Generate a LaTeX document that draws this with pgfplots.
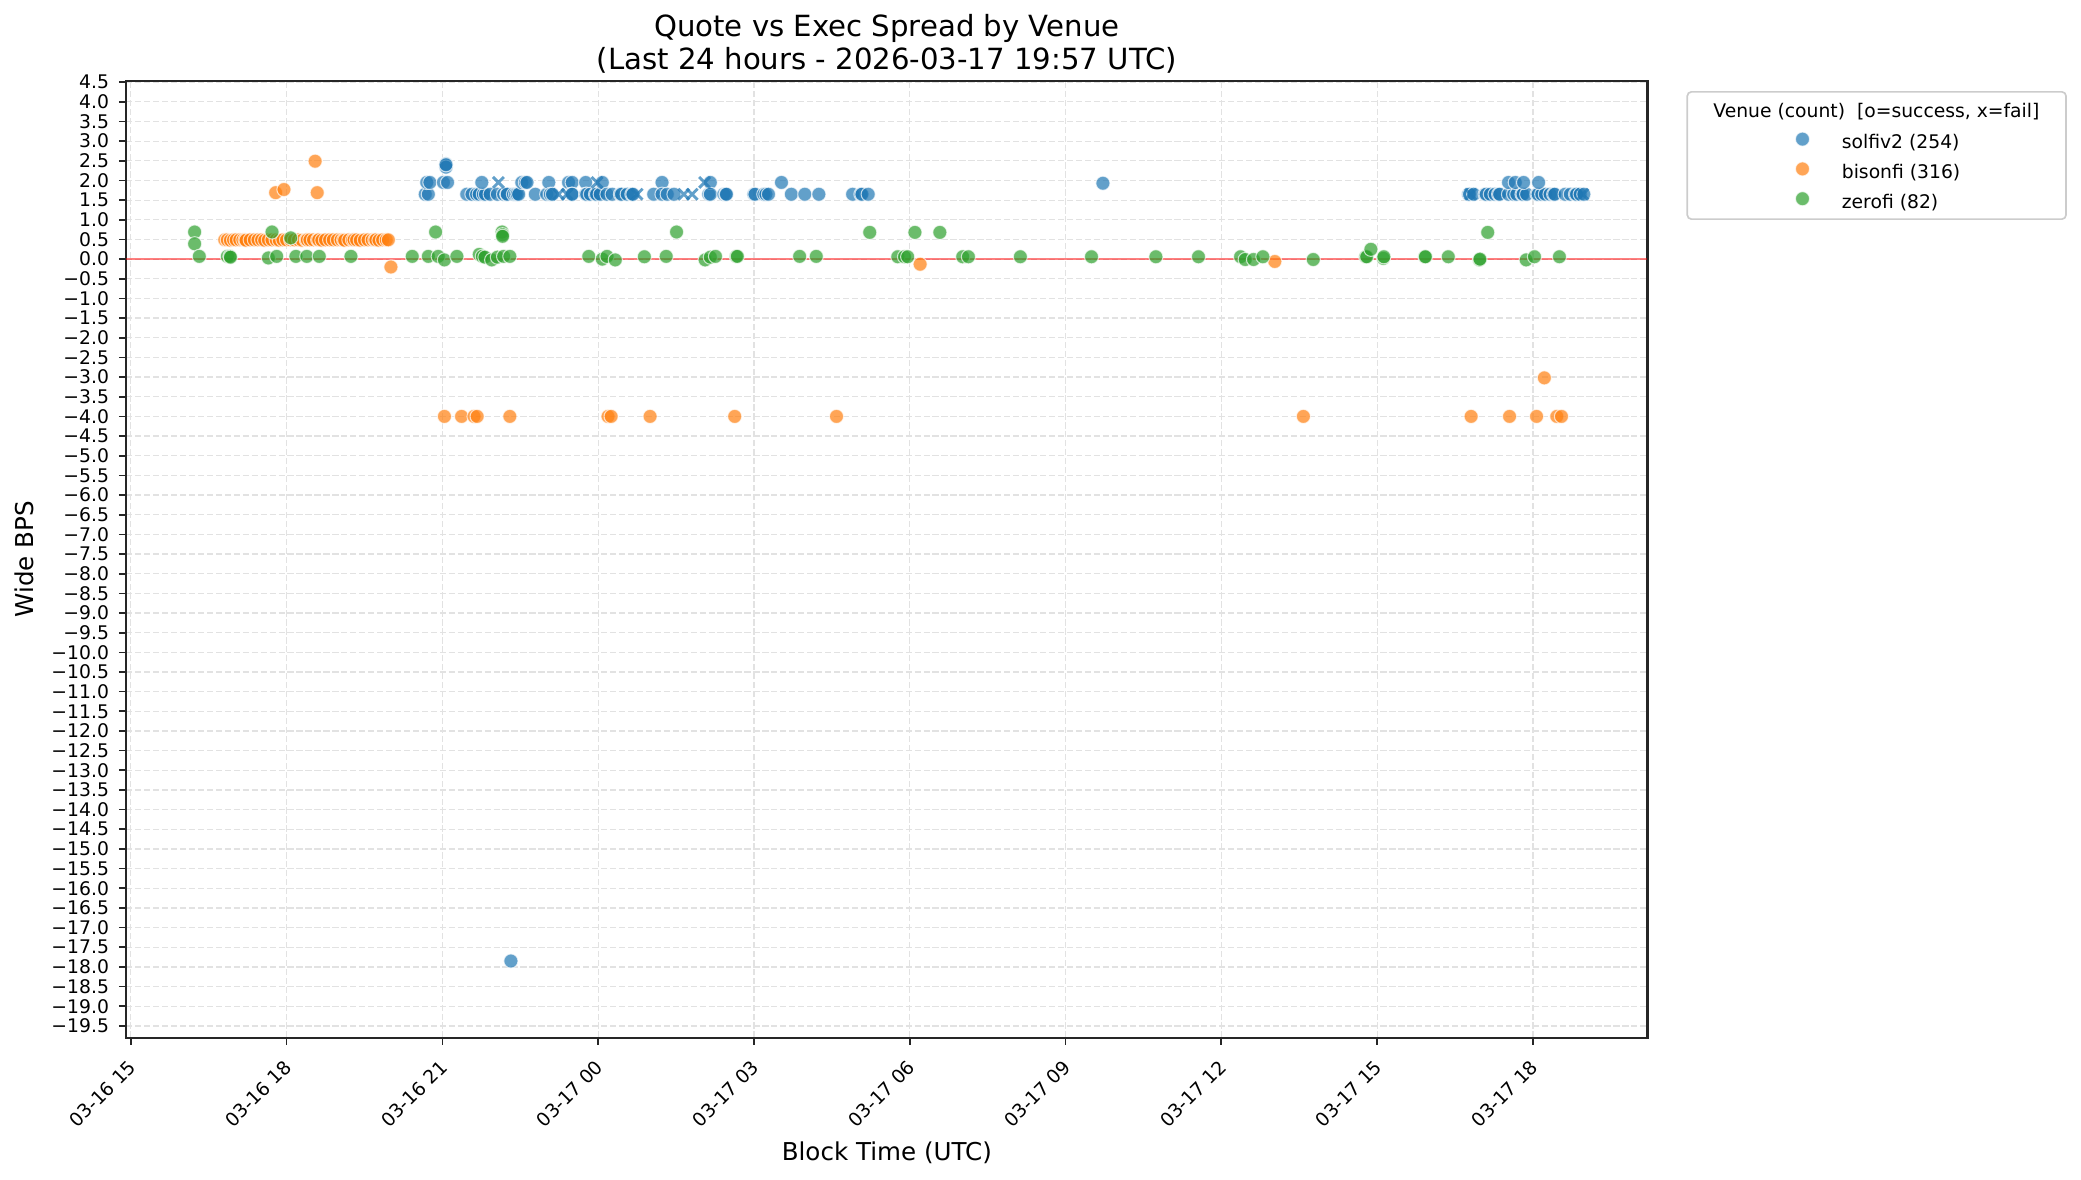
\documentclass[border=0pt]{standalone}
\usepackage{fontspec}
\setmainfont{DejaVu Sans}
\usepackage{pgfplots}
\pgfplotsset{compat=1.18}
\definecolor{cblue}{HTML}{1F77B4}
\definecolor{corange}{HTML}{FF7F0E}
\definecolor{cgreen}{HTML}{2CA02C}
\definecolor{gridc}{HTML}{E2E2E2}
\definecolor{spine}{HTML}{262626}
\pgfplotsset{
  succ/.style={color=#1, only marks, mark=*, mark size=3.4pt,
    mark options={fill=#1, draw=white, line width=0.5pt, opacity=0.7}},
  fail/.style={color=#1, only marks, mark=x, mark size=3.7pt,
    mark options={draw=#1, line width=1.4pt, opacity=0.7}, forget plot},
}
\begin{document}
\begin{tikzpicture}
\path[use as bounding box] (-60.6pt,-68.3pt) rectangle (938.3pt,498.1pt);
\begin{axis}[
  name=ax, at={(0pt,0pt)}, anchor=south west,
  scale only axis, width=730.2pt, height=459.4pt,
  xmin=14.913, xmax=44.206, ymin=-19.80, ymax=4.54,
  xtick={15,18,21,24,27,30,33,36,39,42},
  xticklabels={03-16 15,03-16 18,03-16 21,03-17 00,03-17 03,03-17 06,03-17 09,03-17 12,03-17 15,03-17 18},
  ytick={-19.5,-19.0,-18.5,-18.0,-17.5,-17.0,-16.5,-16.0,-15.5,-15.0,-14.5,-14.0,-13.5,-13.0,-12.5,-12.0,-11.5,-11.0,-10.5,-10.0,-9.5,-9.0,-8.5,-8.0,-7.5,-7.0,-6.5,-6.0,-5.5,-5.0,-4.5,-4.0,-3.5,-3.0,-2.5,-2.0,-1.5,-1.0,-0.5,0.0,0.5,1.0,1.5,2.0,2.5,3.0,3.5,4.0,4.5},
  yticklabels={−19.5,−19.0,−18.5,−18.0,−17.5,−17.0,−16.5,−16.0,−15.5,−15.0,−14.5,−14.0,−13.5,−13.0,−12.5,−12.0,−11.5,−11.0,−10.5,−10.0,−9.5,−9.0,−8.5,−8.0,−7.5,−7.0,−6.5,−6.0,−5.5,−5.0,−4.5,−4.0,−3.5,−3.0,−2.5,−2.0,−1.5,−1.0,−0.5,0.0,0.5,1.0,1.5,2.0,2.5,3.0,3.5,4.0,4.5},
  tick pos=left, tick align=outside, major tick length=3.5pt,
  major tick style={spine, line width=0.8pt},
  axis line style={spine, line width=1pt},
  grid=major,
  major grid style={gridc, dash pattern=on 3pt off 1.3pt, line width=0.6pt},
  yticklabel style={font=\fontsize{9}{10.8}\selectfont, anchor=east, inner sep=0pt, xshift=-4.6pt},
  xticklabel style={font=\fontsize{9}{10.8}\selectfont, xshift=-1.7pt, yshift=-6.4pt, rotate=45, anchor=north east, inner sep=0pt},
  xlabel={Block Time (UTC)},
  ylabel={Wide BPS},
  xlabel style={font=\fontsize{11.8}{14}\selectfont, at={(axis description cs:0.5,0)}, anchor=base, yshift=-59pt},
  ylabel style={font=\fontsize{11.8}{14}\selectfont, at={(axis description cs:-0.06724,0.5)}, anchor=center},
  legend style={at={(axis description cs:1.09176,0.94906)}, anchor=north west, draw=none, fill=none,
    inner sep=0pt, font=\fontsize{9}{10.8}\selectfont, row sep=2.1pt, column sep=11.7pt,
    nodes={inner sep=0pt, text height=7pt, text depth=3pt}},
  legend cell align=left,
  legend image code/.code={\path (0pt,-3pt) (14pt,7pt); \draw[#1] plot coordinates {(7pt,2.7pt)};},
]
\addplot[red, opacity=0.5, line width=1pt, forget plot] coordinates {(14.913,0) (44.206,0)};

% solfiv2 successes
\addplot[succ=cblue] coordinates {
(20.67,1.65) (20.73,1.65) (20.70,1.95) (20.76,1.95) (21.02,1.95) (21.10,1.95)
(21.07,2.42) (21.07,2.34) (21.07,2.40)
(21.47,1.65) (21.57,1.65) (21.66,1.65) (21.71,1.65) (21.79,1.65) (21.83,1.65) (21.92,1.65)
(21.76,1.95) (22.06,1.65) (22.18,1.65) (22.24,1.65) (22.25,1.65) (22.37,1.65) (22.41,1.65)
(22.44,1.65) (22.47,1.65) (22.53,1.95) (22.60,1.95) (22.63,1.95) (22.79,1.65) (23.01,1.65)
(23.05,1.95) (23.08,1.65) (23.12,1.65) (23.43,1.95) (23.50,1.95) (23.49,1.65) (23.50,1.65)
(23.76,1.95) (23.76,1.65) (23.78,1.65) (23.85,1.65) (23.95,1.65) (23.97,1.65) (24.04,1.65)
(24.08,1.95) (24.17,1.65) (24.27,1.65) (24.43,1.65) (24.45,1.65) (24.56,1.65) (24.65,1.65)
(24.67,1.65) (25.07,1.65) (25.23,1.95) (25.23,1.65) (25.33,1.65) (25.46,1.65) (26.13,1.65)
(26.16,1.95) (26.16,1.65) (26.42,1.65) (26.46,1.65) (26.47,1.65) (27.00,1.65) (27.02,1.65)
(27.19,1.65) (27.23,1.65) (27.28,1.65) (27.53,1.95) (27.72,1.65) (27.98,1.65) (28.25,1.65)
(28.90,1.65) (29.06,1.65) (29.08,1.65) (29.20,1.65)
(33.72,1.93) (22.32,-17.85)
(40.76,1.65) (40.78,1.65) (40.86,1.65) (41.08,1.65) (41.10,1.65) (41.18,1.65) (41.27,1.65)
(41.34,1.65) (41.36,1.65) (41.53,1.65) (41.63,1.65) (41.69,1.65) (41.79,1.65) (41.81,1.65)
(41.88,1.65) (42.08,1.65) (42.10,1.65) (42.17,1.65) (42.24,1.65) (42.33,1.65) (42.40,1.65)
(42.42,1.65) (42.62,1.65) (42.72,1.65) (42.82,1.65) (42.84,1.65) (42.91,1.65) (42.98,1.65)
(41.53,1.95) (41.66,1.95) (41.82,1.95) (42.11,1.95)
};
\addlegendentry{solfiv2 (254)}
\addplot[fail=cblue] coordinates {
(22.08,1.95) (23.24,1.65) (23.40,1.65) (23.98,1.95) (24.75,1.65) (25.65,1.65) (25.81,1.65) (26.05,1.95) (40.80,1.65) (42.96,1.65)
};

% bisonfi successes
\addplot[succ=corange] coordinates {
(16.81,0.49) (16.86,0.49) (16.92,0.48) (16.98,0.49) (17.03,0.49) (17.10,0.49) (17.16,0.49)
(17.20,0.49) (17.22,0.48) (17.30,0.49) (17.38,0.49) (17.45,0.49) (17.52,0.49) (17.58,0.48)
(17.65,0.49) (17.72,0.49) (17.80,0.49) (17.86,0.48) (17.93,0.49) (18.00,0.49) (18.08,0.49)
(18.15,0.49) (18.23,0.49) (18.30,0.48) (18.38,0.49) (18.40,0.49) (18.45,0.49) (18.52,0.49)
(18.60,0.49) (18.62,0.49) (18.68,0.48) (18.75,0.49) (18.83,0.49) (18.90,0.49) (18.98,0.49)
(19.05,0.49) (19.10,0.49) (19.12,0.48) (19.20,0.49) (19.27,0.49) (19.30,0.49) (19.35,0.49)
(19.42,0.48) (19.50,0.49) (19.57,0.49) (19.65,0.49) (19.70,0.49) (19.72,0.49) (19.78,0.48)
(19.85,0.49) (19.92,0.49) (19.96,0.49)
(17.79,1.69) (17.95,1.77) (18.55,2.49) (18.59,1.69) (20.01,-0.20) (30.20,-0.13) (37.03,-0.06)
(21.04,-4.0) (21.37,-4.0) (21.61,-4.0) (21.67,-4.0) (22.30,-4.0) (24.19,-4.0) (24.25,-4.0)
(25.00,-4.0) (26.63,-4.0) (28.59,-4.0) (37.58,-4.0) (40.81,-4.0) (41.55,-4.0) (42.07,-4.0)
(42.46,-4.0) (42.55,-4.0) (42.22,-3.02)
};
\addlegendentry{bisonfi (316)}

% zerofi successes
\addplot[succ=cgreen] coordinates {
(16.23,0.69) (16.23,0.39) (16.32,0.07) (16.86,0.07) (16.91,0.07) (16.92,0.05)
(17.65,0.03) (17.72,0.69) (17.81,0.07) (18.08,0.54) (18.18,0.07) (18.39,0.07) (18.63,0.07) (19.24,0.07)
(20.42,0.07) (20.73,0.07) (20.87,0.69) (20.92,0.07) (21.04,-0.02) (21.28,0.07)
(21.71,0.12) (21.77,0.07) (21.82,0.05) (21.95,-0.02) (22.06,0.05) (22.15,0.69) (22.16,0.62)
(22.16,0.58) (22.18,0.07) (22.30,0.07)
(23.82,0.07) (24.08,0.00) (24.17,0.07) (24.33,-0.02) (24.89,0.06) (25.31,0.07) (25.51,0.69)
(26.06,-0.02) (26.16,0.05) (26.26,0.07) (26.66,0.07) (26.68,0.07)
(27.88,0.07) (28.20,0.07) (29.23,0.68) (29.77,0.06) (29.90,0.06) (29.96,0.06) (30.10,0.68)
(30.58,0.68) (31.02,0.06) (31.13,0.06) (32.13,0.06) (33.50,0.06) (34.74,0.06) (35.56,0.06)
(36.37,0.06) (36.46,-0.01) (36.62,-0.01) (36.80,0.06) (37.77,-0.01) (38.78,0.06) (38.80,0.06)
(38.88,0.25) (39.12,0.02) (39.13,0.06) (39.92,0.06) (39.93,0.06) (40.37,0.06) (40.97,-0.02)
(40.98,0.00) (41.13,0.68) (41.87,-0.02) (42.03,0.06) (42.51,0.06)
};
\addlegendentry{zerofi (82)}
\end{axis}
\node[anchor=base, inner sep=0pt, font=\fontsize{14}{16}\selectfont]
  at ([yshift=21.1pt]ax.north) {Quote vs Exec Spread by Venue};
\node[anchor=base, inner sep=0pt, font=\fontsize{14}{16}\selectfont]
  at ([yshift=5.4pt]ax.north) {(Last 24 hours - 2026-03-17 19:57 UTC)};
\draw[black!20, line width=0.8pt, rounded corners=2pt]
  ([xshift=19.1pt,yshift=-5.4pt]ax.north east) rectangle ([xshift=200.9pt,yshift=-66.5pt]ax.north east);
\node[anchor=base, inner sep=0pt, font=\fontsize{9}{10.8}\selectfont]
  at ([xshift=109.9pt,yshift=-17.6pt]ax.north east) {Venue (count)\ \ [o=success, x=fail]};
\end{tikzpicture}
\end{document}
